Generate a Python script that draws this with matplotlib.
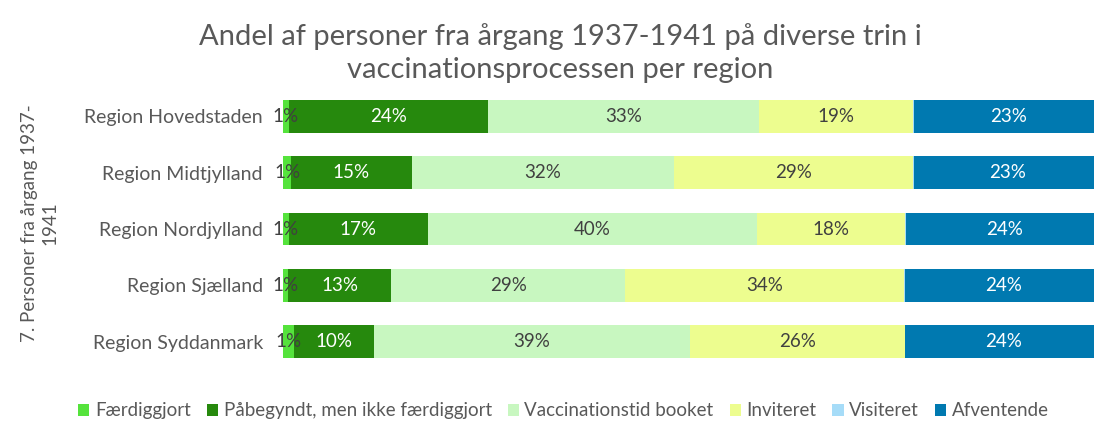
import matplotlib
matplotlib.use("Agg")
import matplotlib.pyplot as plt
import numpy as np

plt.rcParams["font.family"] = ["Lato", "DejaVu Sans"]

REGIONS = [
    "Region Hovedstaden",
    "Region Midtjylland",
    "Region Nordjylland",
    "Region Sjælland",
    "Region Syddanmark",
]
SERIES_NAMES = [
    "Færdiggjort",
    "Påbegyndt, men ikke færdiggjort",
    "Vaccinationstid booket",
    "Inviteret",
    "Visiteret",
    "Afventende",
]
faerdiggjort = [0.7, 1.0, 0.7, 0.6, 1.4]
paabegyndt = [24.3, 14.7, 17.0, 12.6, 9.7]
booket = [33.1, 32.1, 40.2, 28.6, 38.6]
inviteret = [18.8, 29.1, 18.1, 34.0, 26.2]
visiteret = [0.2, 0.1, 0.1, 0.1, 0.1]
afventende = [22.9, 23.0, 23.9, 24.1, 24.0]

SERIES_COLORS = ["#55E33C", "#26890D", "#C8F7C0", "#EDFD8F", "#A6DCF8", "#0079B0"]
LABEL_COLORS = ["#404040", "white", "#404040", "#404040", None, "white"]
TEXT_GRAY = "#595959"


def main():
    series = [faerdiggjort, paabegyndt, booket, inviteret, visiteret, afventende]

    fig = plt.figure(figsize=(10.94, 4.24), dpi=100)
    ax = fig.add_axes([0.2587, 0.1274, 0.7486, 0.665])

    y_pos = np.arange(len(REGIONS))
    left = np.zeros(len(REGIONS))
    for name, values, color, label_color in zip(SERIES_NAMES, series, SERIES_COLORS, LABEL_COLORS):
        values = np.array(values)
        ax.barh(y_pos, values, left=left, height=0.58, color=color, label=name)
        if label_color is not None:
            for y, start, value in zip(y_pos, left, values):
                ax.text(start + value / 2, y, f"{max(1, round(value)):.0f}%",
                        ha="center", va="center", fontsize=13.5, color=label_color)
        left += values

    ax.set_xlim(0, 100)
    ax.set_ylim(len(REGIONS) - 0.5, -0.5)
    ax.set_yticks(y_pos)
    ax.set_yticklabels(REGIONS, fontsize=14, color=TEXT_GRAY)
    ax.tick_params(axis="y", length=0, pad=14.5)
    ax.set_xticks([])
    for spine in ax.spines.values():
        spine.set_visible(False)

    fig.text(0.512, 0.875, "Andel af personer fra årgang 1937-1941 på diverse trin i\nvaccinationsprocessen per region",
             ha="center", va="center", fontsize=21, color=TEXT_GRAY, linespacing=1.3)
    fig.text(0.036, 0.474, "7. Personer fra årgang 1937-\n1941", rotation=90,
             ha="center", va="center", fontsize=13.5, color=TEXT_GRAY, linespacing=1.25)

    fig.legend(loc="center", bbox_to_anchor=(0.515, 0.031), ncol=6, frameon=False,
               fontsize=13.5, handlelength=0.6, handleheight=0.6, handletextpad=0.3,
               columnspacing=0.85, labelcolor=TEXT_GRAY)

    fig.savefig("out.png", dpi=100)
    plt.close(fig)


if __name__ == "__main__":
    main()
